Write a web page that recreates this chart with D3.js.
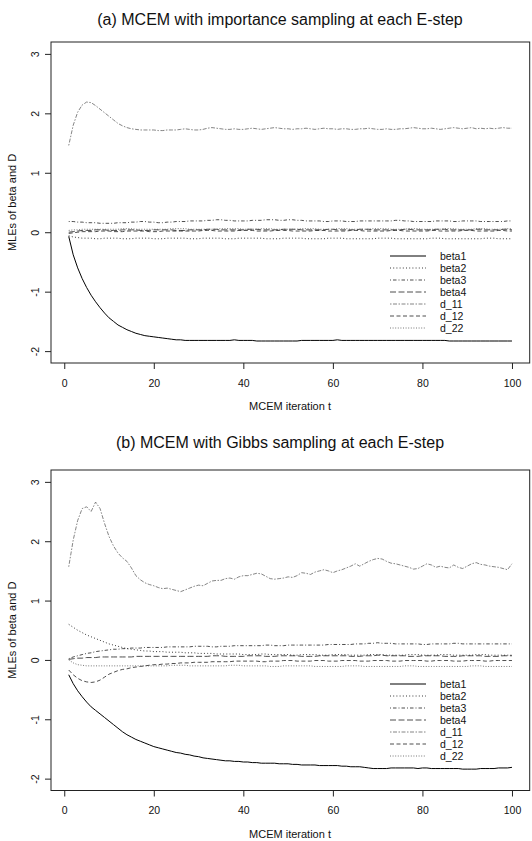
<!DOCTYPE html>
<html>
<head>
<meta charset="utf-8">
<script src="https://cdn.jsdelivr.net/npm/d3@7"></script>
<style>
  html, body { margin: 0; padding: 0; background: #fff; }
  svg { display: block; font-family: "Liberation Sans", Arial, Helvetica, sans-serif; }
</style>
</head>
<body>
<svg id="chart" width="532" height="841"></svg>
<script>
// MCEM iterations 1..100
const iterations = d3.range(1, 101);

const seriesNames = ["beta1", "beta2", "beta3", "beta4", "d_11", "d_12", "d_22"];
const xTicks = [0, 20, 40, 60, 80, 100];
const yTicks = [-2, -1, 0, 1, 2, 3];
const panelTitles = [
  "(a) MCEM with importance sampling at each E-step",
  "(b) MCEM with Gibbs sampling at each E-step"
];
const xLabel = "MCEM iteration t";
const yLabel = "MLEs of beta and D";

// ---- panel (a): importance sampling ----
const beta1A = [-0.07,-0.38,-0.60,-0.78,-0.93,-1.06,-1.17,-1.27,-1.36,-1.44,
 -1.50,-1.56,-1.60,-1.64,-1.67,-1.70,-1.72,-1.74,-1.75,-1.76,
 -1.77,-1.78,-1.79,-1.80,-1.81,-1.81,-1.82,-1.82,-1.82,-1.82,
 -1.82,-1.82,-1.82,-1.82,-1.82,-1.82,-1.82,-1.81,-1.82,-1.82,
 -1.82,-1.82,-1.83,-1.83,-1.83,-1.83,-1.83,-1.83,-1.83,-1.83,
 -1.83,-1.83,-1.82,-1.82,-1.82,-1.82,-1.82,-1.82,-1.82,-1.82,
 -1.81,-1.82,-1.82,-1.82,-1.82,-1.82,-1.82,-1.82,-1.82,-1.82,
 -1.82,-1.82,-1.82,-1.82,-1.82,-1.82,-1.82,-1.82,-1.82,-1.82,
 -1.82,-1.82,-1.82,-1.82,-1.82,-1.83,-1.83,-1.83,-1.83,-1.83,
 -1.83,-1.83,-1.83,-1.83,-1.83,-1.83,-1.83,-1.83,-1.83,-1.83];
const beta2A = [-0.06,-0.08,-0.09,-0.10,-0.10,-0.10,-0.11,-0.11,-0.10,-0.10,
 -0.10,-0.10,-0.11,-0.11,-0.11,-0.10,-0.10,-0.10,-0.10,-0.11,
 -0.11,-0.11,-0.10,-0.10,-0.10,-0.10,-0.10,-0.11,-0.11,-0.11,
 -0.10,-0.10,-0.10,-0.10,-0.10,-0.11,-0.11,-0.11,-0.10,-0.10,
 -0.10,-0.10,-0.10,-0.10,-0.11,-0.11,-0.11,-0.11,-0.10,-0.10,
 -0.10,-0.10,-0.10,-0.11,-0.11,-0.11,-0.11,-0.11,-0.10,-0.10,
 -0.10,-0.10,-0.11,-0.11,-0.11,-0.11,-0.11,-0.11,-0.11,-0.10,
 -0.10,-0.10,-0.10,-0.11,-0.11,-0.11,-0.11,-0.11,-0.11,-0.11,
 -0.11,-0.10,-0.10,-0.10,-0.11,-0.11,-0.11,-0.11,-0.11,-0.11,
 -0.11,-0.11,-0.11,-0.10,-0.10,-0.10,-0.11,-0.11,-0.11,-0.11];
const beta3A = [0.18,0.18,0.17,0.17,0.16,0.16,0.16,0.15,0.15,0.15,
 0.15,0.16,0.16,0.16,0.17,0.17,0.18,0.18,0.17,0.17,
 0.16,0.16,0.17,0.17,0.18,0.18,0.18,0.19,0.19,0.19,
 0.19,0.20,0.20,0.21,0.21,0.20,0.20,0.19,0.19,0.19,
 0.19,0.20,0.20,0.20,0.21,0.21,0.21,0.20,0.20,0.21,
 0.21,0.20,0.20,0.19,0.19,0.19,0.19,0.18,0.18,0.19,
 0.19,0.19,0.18,0.18,0.18,0.19,0.19,0.19,0.19,0.19,
 0.19,0.19,0.19,0.20,0.20,0.19,0.19,0.18,0.18,0.18,
 0.18,0.18,0.19,0.19,0.19,0.19,0.18,0.18,0.19,0.19,
 0.19,0.19,0.18,0.18,0.18,0.18,0.18,0.18,0.19,0.19];
const beta4A = [0.00,0.01,0.02,0.03,0.03,0.03,0.04,0.04,0.04,0.03,
 0.03,0.03,0.04,0.04,0.04,0.04,0.03,0.03,0.03,0.04,
 0.04,0.04,0.04,0.04,0.03,0.03,0.03,0.04,0.04,0.04,
 0.04,0.05,0.05,0.05,0.04,0.04,0.04,0.04,0.04,0.04,
 0.05,0.05,0.05,0.04,0.04,0.04,0.04,0.04,0.05,0.05,
 0.05,0.05,0.04,0.04,0.04,0.04,0.04,0.04,0.05,0.05,
 0.04,0.04,0.04,0.04,0.04,0.05,0.05,0.05,0.04,0.04,
 0.04,0.04,0.04,0.04,0.04,0.05,0.05,0.04,0.04,0.04,
 0.04,0.04,0.05,0.05,0.05,0.04,0.04,0.04,0.04,0.04,
 0.04,0.05,0.05,0.04,0.04,0.04,0.04,0.05,0.05,0.04];
const d11A = [1.46,1.80,2.02,2.14,2.19,2.18,2.13,2.07,2.01,1.95,
 1.89,1.83,1.79,1.76,1.74,1.73,1.72,1.72,1.72,1.72,
 1.71,1.71,1.72,1.72,1.72,1.73,1.74,1.73,1.72,1.72,
 1.73,1.75,1.76,1.75,1.74,1.73,1.73,1.74,1.73,1.73,
 1.74,1.75,1.74,1.73,1.74,1.75,1.76,1.75,1.74,1.74,
 1.73,1.74,1.74,1.75,1.74,1.73,1.74,1.75,1.74,1.74,
 1.73,1.74,1.74,1.73,1.73,1.74,1.74,1.75,1.74,1.73,
 1.73,1.74,1.73,1.73,1.74,1.74,1.75,1.76,1.75,1.74,
 1.74,1.75,1.74,1.73,1.74,1.75,1.76,1.75,1.74,1.75,
 1.76,1.74,1.75,1.74,1.75,1.74,1.75,1.76,1.75,1.75];
const d12A = [-0.02,-0.01,0.00,0.01,0.01,0.01,0.01,0.02,0.02,0.02,
 0.01,0.01,0.01,0.02,0.02,0.02,0.02,0.02,0.01,0.01,
 0.01,0.02,0.02,0.02,0.02,0.02,0.02,0.02,0.02,0.02,
 0.03,0.03,0.03,0.02,0.02,0.02,0.02,0.02,0.03,0.03,
 0.03,0.03,0.02,0.02,0.02,0.02,0.03,0.03,0.03,0.03,
 0.02,0.02,0.02,0.02,0.02,0.03,0.03,0.03,0.02,0.02,
 0.02,0.02,0.02,0.03,0.03,0.03,0.02,0.02,0.02,0.02,
 0.02,0.02,0.03,0.03,0.03,0.02,0.02,0.02,0.02,0.02,
 0.02,0.03,0.03,0.02,0.02,0.02,0.02,0.02,0.03,0.03,
 0.03,0.02,0.02,0.02,0.02,0.02,0.03,0.03,0.02,0.02];
const d22A = [0.03,0.04,0.04,0.05,0.05,0.05,0.05,0.05,0.05,0.05,
 0.05,0.05,0.06,0.06,0.06,0.05,0.05,0.05,0.05,0.05,
 0.05,0.05,0.05,0.06,0.06,0.06,0.06,0.05,0.05,0.05,
 0.05,0.05,0.05,0.05,0.06,0.06,0.06,0.06,0.06,0.05,
 0.05,0.05,0.05,0.06,0.06,0.06,0.05,0.05,0.05,0.05,
 0.05,0.05,0.06,0.06,0.06,0.06,0.05,0.05,0.05,0.05,
 0.06,0.06,0.06,0.05,0.05,0.05,0.05,0.05,0.06,0.06,
 0.06,0.06,0.05,0.05,0.05,0.05,0.06,0.06,0.06,0.05,
 0.05,0.05,0.05,0.05,0.06,0.06,0.06,0.05,0.05,0.05,
 0.05,0.06,0.06,0.06,0.05,0.05,0.05,0.05,0.06,0.06];

// ---- panel (b): Gibbs sampling ----
const beta1B = [-0.25,-0.40,-0.52,-0.62,-0.71,-0.79,-0.85,-0.91,-0.97,-1.03,
 -1.09,-1.15,-1.21,-1.26,-1.30,-1.34,-1.37,-1.40,-1.43,-1.46,
 -1.48,-1.50,-1.52,-1.54,-1.56,-1.57,-1.59,-1.60,-1.62,-1.63,
 -1.65,-1.66,-1.67,-1.68,-1.69,-1.70,-1.70,-1.71,-1.71,-1.72,
 -1.72,-1.73,-1.73,-1.74,-1.74,-1.74,-1.74,-1.75,-1.75,-1.75,
 -1.76,-1.76,-1.77,-1.77,-1.77,-1.77,-1.78,-1.78,-1.78,-1.78,
 -1.78,-1.79,-1.79,-1.80,-1.80,-1.80,-1.81,-1.82,-1.83,-1.83,
 -1.83,-1.83,-1.82,-1.82,-1.82,-1.82,-1.82,-1.82,-1.83,-1.82,
 -1.82,-1.83,-1.83,-1.83,-1.83,-1.83,-1.83,-1.83,-1.84,-1.84,
 -1.84,-1.84,-1.83,-1.83,-1.83,-1.83,-1.82,-1.82,-1.82,-1.81];
const beta2B = [0.60,0.55,0.50,0.46,0.42,0.39,0.36,0.33,0.30,0.27,
 0.25,0.23,0.21,0.19,0.18,0.17,0.16,0.15,0.15,0.14,
 0.14,0.14,0.13,0.13,0.13,0.13,0.12,0.12,0.12,0.11,
 0.11,0.11,0.11,0.10,0.10,0.10,0.10,0.10,0.10,0.09,
 0.09,0.09,0.09,0.10,0.10,0.09,0.09,0.09,0.09,0.09,
 0.08,0.08,0.09,0.09,0.09,0.09,0.08,0.08,0.08,0.09,
 0.09,0.09,0.09,0.08,0.08,0.08,0.08,0.09,0.09,0.09,
 0.09,0.08,0.08,0.08,0.08,0.08,0.09,0.09,0.09,0.08,
 0.08,0.08,0.08,0.09,0.09,0.09,0.08,0.08,0.08,0.08,
 0.08,0.09,0.09,0.09,0.08,0.08,0.08,0.08,0.08,0.08];
const beta3B = [0.02,0.05,0.07,0.09,0.11,0.12,0.14,0.15,0.16,0.17,
 0.18,0.18,0.19,0.19,0.20,0.20,0.20,0.21,0.21,0.21,
 0.21,0.21,0.22,0.22,0.22,0.22,0.22,0.22,0.23,0.23,
 0.23,0.23,0.22,0.22,0.23,0.23,0.23,0.24,0.24,0.24,
 0.24,0.24,0.24,0.24,0.25,0.25,0.24,0.24,0.24,0.25,
 0.25,0.25,0.25,0.25,0.25,0.25,0.25,0.25,0.26,0.26,
 0.26,0.26,0.26,0.26,0.27,0.27,0.27,0.28,0.28,0.29,
 0.28,0.28,0.28,0.27,0.27,0.27,0.27,0.27,0.27,0.26,
 0.26,0.27,0.27,0.27,0.27,0.27,0.28,0.28,0.27,0.27,
 0.27,0.27,0.27,0.27,0.27,0.27,0.27,0.27,0.27,0.27];
const beta4B = [0.01,0.02,0.03,0.03,0.04,0.04,0.04,0.05,0.05,0.05,
 0.05,0.05,0.05,0.05,0.05,0.06,0.06,0.06,0.06,0.06,
 0.06,0.06,0.06,0.06,0.06,0.06,0.06,0.06,0.06,0.06,
 0.06,0.06,0.07,0.07,0.07,0.06,0.06,0.06,0.06,0.06,
 0.07,0.07,0.07,0.07,0.06,0.06,0.06,0.07,0.07,0.07,
 0.07,0.07,0.06,0.06,0.06,0.06,0.07,0.07,0.07,0.07,
 0.07,0.07,0.07,0.06,0.06,0.06,0.07,0.07,0.07,0.08,
 0.08,0.07,0.07,0.07,0.07,0.07,0.06,0.06,0.06,0.07,
 0.07,0.07,0.07,0.07,0.06,0.06,0.06,0.06,0.07,0.07,
 0.07,0.07,0.07,0.06,0.06,0.06,0.06,0.07,0.07,0.07];
const d11B = [1.57,2.02,2.35,2.55,2.58,2.50,2.66,2.55,2.30,2.08,
 1.92,1.80,1.72,1.66,1.55,1.42,1.35,1.30,1.27,1.25,
 1.22,1.20,1.21,1.19,1.17,1.15,1.18,1.21,1.24,1.26,
 1.25,1.29,1.33,1.34,1.34,1.37,1.38,1.36,1.40,1.42,
 1.42,1.44,1.46,1.45,1.41,1.37,1.36,1.37,1.38,1.40,
 1.39,1.42,1.47,1.46,1.44,1.48,1.50,1.52,1.50,1.47,
 1.50,1.52,1.55,1.58,1.62,1.58,1.62,1.66,1.69,1.71,
 1.70,1.66,1.63,1.62,1.60,1.58,1.56,1.53,1.54,1.58,
 1.62,1.60,1.56,1.58,1.56,1.55,1.60,1.56,1.54,1.58,
 1.62,1.64,1.61,1.60,1.58,1.57,1.56,1.54,1.52,1.62];
const d12B = [-0.17,-0.25,-0.31,-0.35,-0.37,-0.38,-0.37,-0.34,-0.29,-0.24,
 -0.21,-0.18,-0.16,-0.15,-0.13,-0.12,-0.11,-0.10,-0.09,-0.08,
 -0.08,-0.07,-0.07,-0.06,-0.06,-0.05,-0.05,-0.05,-0.04,-0.04,
 -0.04,-0.04,-0.03,-0.03,-0.03,-0.03,-0.03,-0.02,-0.02,-0.02,
 -0.02,-0.02,-0.02,-0.03,-0.03,-0.02,-0.02,-0.02,-0.01,-0.01,
 -0.01,-0.02,-0.02,-0.02,-0.02,-0.01,-0.01,-0.01,-0.02,-0.02,
 -0.02,-0.01,-0.01,-0.01,-0.01,-0.02,-0.02,-0.02,-0.01,-0.01,
 -0.01,-0.01,-0.02,-0.02,-0.02,-0.01,-0.01,-0.01,-0.01,-0.01,
 -0.02,-0.02,-0.01,-0.01,-0.01,-0.01,-0.02,-0.02,-0.02,-0.01,
 -0.01,-0.01,-0.01,-0.02,-0.02,-0.01,-0.01,-0.01,-0.01,-0.01];
const d22B = [0.00,-0.05,-0.08,-0.09,-0.10,-0.10,-0.10,-0.10,-0.10,-0.10,
 -0.10,-0.10,-0.10,-0.10,-0.10,-0.10,-0.10,-0.10,-0.10,-0.10,
 -0.10,-0.10,-0.10,-0.09,-0.09,-0.09,-0.09,-0.10,-0.10,-0.10,
 -0.10,-0.10,-0.10,-0.10,-0.10,-0.10,-0.09,-0.09,-0.09,-0.10,
 -0.10,-0.10,-0.10,-0.10,-0.10,-0.11,-0.11,-0.11,-0.10,-0.10,
 -0.10,-0.10,-0.10,-0.10,-0.10,-0.11,-0.11,-0.11,-0.11,-0.11,
 -0.11,-0.11,-0.10,-0.10,-0.10,-0.10,-0.11,-0.11,-0.11,-0.11,
 -0.11,-0.11,-0.11,-0.11,-0.11,-0.10,-0.10,-0.10,-0.11,-0.11,
 -0.11,-0.11,-0.11,-0.11,-0.11,-0.11,-0.11,-0.11,-0.11,-0.11,
 -0.10,-0.10,-0.10,-0.11,-0.11,-0.11,-0.11,-0.11,-0.11,-0.11];

// Line styles, one per parameter (R lty look-alikes)
const lineStyles = {
  "beta1": { dash: null,          color: "#000", width: 1.0 },
  "beta2": { dash: "1,2.2",       color: "#222", width: 0.9 },
  "beta3": { dash: "1,2,3.5,2",   color: "#222", width: 0.8 },
  "beta4": { dash: "6,2.5",       color: "#222", width: 0.8 },
  "d_11":  { dash: "1.5,1.5,4,1.5", color: "#666", width: 0.8 },
  "d_12":  { dash: "4,2.5",       color: "#222", width: 0.8 },
  "d_22":  { dash: "1,1.6",       color: "#555", width: 0.8 }
};

const panels = [
  { title: panelTitles[0], top: 42, bottom: 363, titleY: 25, legendY: 256,
    series: [beta1A, beta2A, beta3A, beta4A, d11A, d12A, d22A] },
  { title: panelTitles[1], top: 470, bottom: 790.5, titleY: 448, legendY: 684,
    series: [beta1B, beta2B, beta3B, beta4B, d11B, d12B, d22B] }
];

const svg = d3.select("#chart");
const left = 51, right = 529.7;
// R-style 4% range extension on both axes
const x = d3.scaleLinear().domain([1 - 0.04 * 99, 100 + 0.04 * 99]).range([left, right]);
const plainNumber = d => String(d);

panels.forEach(p => {
  const y = d3.scaleLinear().domain([-2.2, 3.2]).range([p.bottom, p.top]);
  const g = svg.append("g");

  // title
  g.append("text").attr("x", 280).attr("y", p.titleY)
    .attr("text-anchor", "middle").attr("font-size", 16).attr("fill", "#111")
    .text(p.title);

  // series lines
  const line = d3.line().x((d, i) => x(iterations[i])).y(d => y(d));
  p.series.forEach((vals, k) => {
    const st = lineStyles[seriesNames[k]];
    g.append("path").datum(vals)
      .attr("d", line).attr("fill", "none")
      .attr("stroke", st.color).attr("stroke-width", st.width)
      .attr("stroke-dasharray", st.dash);
  });

  // box
  g.append("rect").attr("x", left).attr("y", p.top)
    .attr("width", right - left).attr("height", p.bottom - p.top)
    .attr("fill", "none").attr("stroke", "#222").attr("stroke-width", 1);

  // x axis
  const xa = g.append("g").attr("transform", `translate(0,${p.bottom})`)
    .call(d3.axisBottom(x).tickValues(xTicks).tickFormat(plainNumber).tickSize(6).tickSizeOuter(0));
  xa.select(".domain").remove();
  xa.attr("font-family", null);
  xa.selectAll("line").attr("stroke", "#222");
  xa.selectAll("text").attr("font-size", 10.5).attr("fill", "#111")
    .attr("y", 16.5).attr("dy", "0.71em");

  // y axis with rotated labels
  const ya = g.append("g").attr("transform", `translate(${left},0)`)
    .call(d3.axisLeft(y).tickValues(yTicks).tickFormat(plainNumber).tickSize(6).tickSizeOuter(0));
  ya.select(".domain").remove();
  ya.attr("font-family", null);
  ya.selectAll("line").attr("stroke", "#222");
  ya.selectAll("text").attr("font-size", 10.5).attr("fill", "#111")
    .attr("x", 0).attr("dy", null).attr("text-anchor", "middle")
    .attr("transform", "translate(-12,0) rotate(-90)");

  // axis titles
  g.append("text").attr("x", 290).attr("y", p.bottom + 47)
    .attr("text-anchor", "middle").attr("font-size", 11).attr("fill", "#111")
    .text(xLabel);
  g.append("text")
    .attr("transform", `translate(16,${(p.top + p.bottom) / 2}) rotate(-90)`)
    .attr("text-anchor", "middle").attr("font-size", 11).attr("fill", "#111")
    .text(yLabel);

  // legend
  const lg = g.append("g");
  seriesNames.forEach((name, k) => {
    const st = lineStyles[name];
    const ly = p.legendY + k * 12;
    lg.append("line").attr("x1", 390).attr("x2", 426).attr("y1", ly).attr("y2", ly)
      .attr("stroke", st.color).attr("stroke-width", st.width)
      .attr("stroke-dasharray", st.dash);
    lg.append("text").attr("x", 440).attr("y", ly + 3.8)
      .attr("font-size", 10.5).attr("fill", "#111").text(name);
  });
});
</script>
</body>
</html>
